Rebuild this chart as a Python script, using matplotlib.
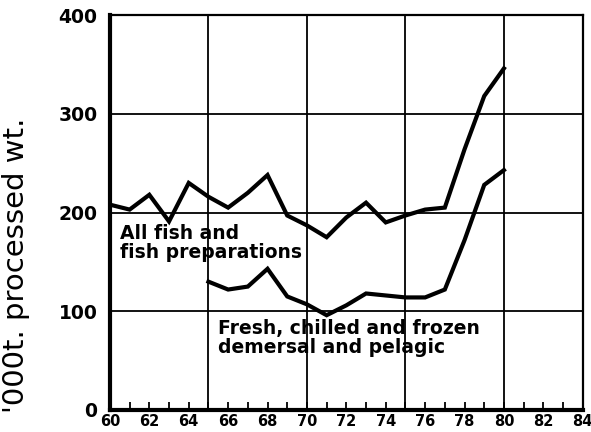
import matplotlib
matplotlib.use("Agg")
import matplotlib.pyplot as plt

# Data ('000 t processed weight)
years_all = list(range(60, 81))
all_fish = [208, 203, 218, 191, 230, 216, 205, 220, 238, 197, 187, 175,
            195, 210, 190, 197, 203, 205, 264, 318, 346]

years_fresh = list(range(65, 81))
fresh_fish = [130, 122, 125, 143, 115, 107, 96, 106, 118, 116, 114, 114,
              122, 172, 228, 243]

x_ticks = list(range(60, 86, 2))
y_ticks = [0, 100, 200, 300, 400]

fig = plt.figure(figsize=(5.91, 4.32), dpi=100)
ax = fig.add_axes([0.186, 0.051, 0.80, 0.914])

# Grid lines
for x in [65, 70, 75, 80]:
    ax.axvline(x, color="black", lw=1.3, zorder=1)
for y in [100, 200, 300]:
    ax.axhline(y, color="black", lw=1.3, zorder=1)

ax.plot(years_all, all_fish, color="black", lw=3, solid_joinstyle="miter", zorder=3)
ax.plot(years_fresh, fresh_fish, color="black", lw=3, solid_joinstyle="miter", zorder=3)

ax.set_xlim(60, 84)
ax.set_ylim(0, 400)

ax.set_xticks(x_ticks)
ax.set_xticklabels([str(t) for t in x_ticks], fontsize=10.5, fontweight="heavy")
ax.set_xticks(range(60, 85), minor=True)
ax.set_yticks(y_ticks)
ax.set_yticklabels([str(t) for t in y_ticks], fontsize=13.5, fontweight="heavy")
ax.tick_params(axis="x", which="both", direction="in", length=6, width=1.3, pad=3)
ax.tick_params(axis="y", which="both", length=0, pad=9)

for side in ["left", "bottom"]:
    ax.spines[side].set_linewidth(3)
for side in ["top", "right"]:
    ax.spines[side].set_linewidth(1.6)

fig.text(16 / 591, 1 - 265 / 432, "'000t. processed wt.", fontsize=21,
         rotation=90, ha="center", va="center")

ax.text(60.5, 169, "All fish and\nfish preparations", fontsize=13.5,
        fontweight="bold", va="center", ha="left", linespacing=1.0)
ax.text(65.5, 73, "Fresh, chilled and frozen\ndemersal and pelagic", fontsize=13.5,
        fontweight="bold", va="center", ha="left", linespacing=1.0)

fig.savefig("out.png", dpi=100)
